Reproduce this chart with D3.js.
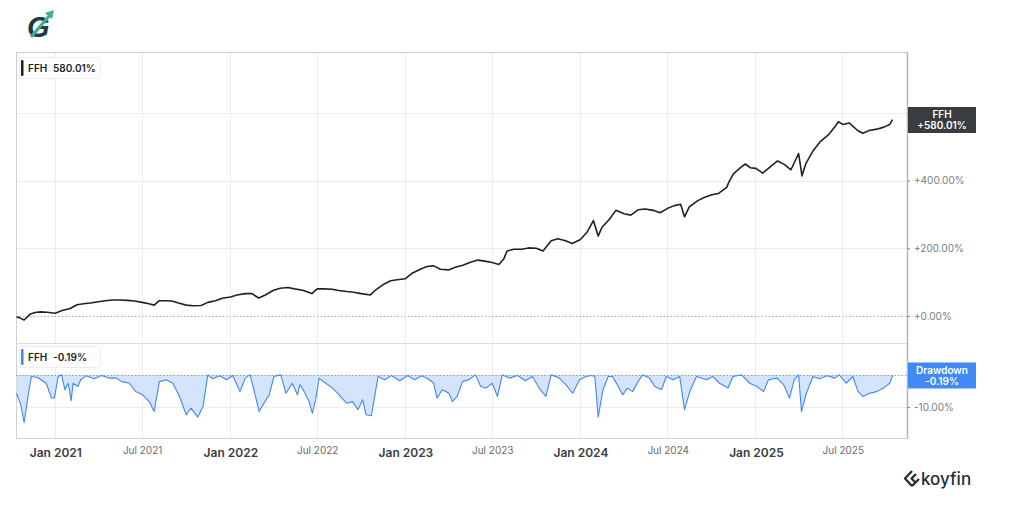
<!DOCTYPE html>
<html><head><meta charset="utf-8">
<script src="https://cdn.jsdelivr.net/npm/d3@7"></script>
<style>
html,body{margin:0;padding:0;background:#fff;}
svg{display:block;font-family:Inter, "Helvetica Neue", Arial, sans-serif;}
</style></head>
<body>
<svg id="c" width="1024" height="509"></svg>
<script>
// ---- data ----
const priceDates = ["2020-10-12","2020-10-18","2020-10-28","2020-11-10","2020-11-20","2020-12-01","2020-12-15","2021-01-01","2021-01-15","2021-02-01","2021-02-15","2021-03-01","2021-03-15","2021-04-01","2021-04-15","2021-05-01","2021-05-15","2021-06-01","2021-06-15","2021-07-01","2021-07-15","2021-07-26","2021-08-06","2021-08-20","2021-09-01","2021-09-15","2021-10-01","2021-10-15","2021-11-01","2021-11-15","2021-12-01","2021-12-15","2022-01-01","2022-01-15","2022-02-01","2022-02-15","2022-03-01","2022-03-15","2022-04-01","2022-04-15","2022-05-01","2022-05-15","2022-06-01","2022-06-20","2022-07-01","2022-07-15","2022-08-01","2022-08-15","2022-09-01","2022-09-15","2022-10-01","2022-10-20","2022-11-01","2022-11-15","2022-12-01","2022-12-15","2023-01-01","2023-01-15","2023-02-01","2023-02-15","2023-03-01","2023-03-15","2023-04-01","2023-04-15","2023-05-01","2023-05-15","2023-06-01","2023-06-15","2023-07-01","2023-07-15","2023-07-25","2023-08-01","2023-08-15","2023-09-01","2023-09-15","2023-10-01","2023-10-15","2023-11-01","2023-11-15","2023-12-01","2023-12-15","2024-01-01","2024-01-15","2024-01-28","2024-02-07","2024-02-15","2024-03-01","2024-03-15","2024-04-01","2024-04-15","2024-05-01","2024-05-15","2024-06-01","2024-06-15","2024-07-01","2024-07-15","2024-07-28","2024-08-05","2024-08-15","2024-09-01","2024-09-15","2024-10-01","2024-10-15","2024-11-01","2024-11-06","2024-11-15","2024-12-01","2024-12-10","2024-12-20","2025-01-01","2025-01-15","2025-02-01","2025-02-15","2025-03-01","2025-03-15","2025-03-31","2025-04-07","2025-04-15","2025-05-01","2025-05-15","2025-06-01","2025-06-15","2025-06-22","2025-07-01","2025-07-15","2025-08-01","2025-08-12","2025-08-25","2025-09-10","2025-09-25","2025-10-07","2025-10-13"];
const priceValues = [-3,-5,-12,6,10,12,11,8,16,22,33,36,38,42,45,47,47,46,44,40,36,32,45,45,44,38,32,30,31,40,45,52,56,62,66,66,53,62,76,82,84,80,76,66,80,80,79,75,72,70,66,62,78,92,104,107,110,126,138,146,148,138,136,144,150,158,165,162,158,152,168,192,197,197,201,200,192,222,228,222,214,226,248,282,236,262,285,312,302,298,314,316,312,305,318,326,330,293,322,340,350,358,362,380,397,420,440,449,438,436,422,442,458,448,432,480,414,450,490,515,535,560,574,566,570,548,540,548,552,558,566,580.01];

const ddDates = ["2020-10-12","2020-10-21","2020-10-28","2020-11-05","2020-11-12","2020-11-25","2020-12-13","2020-12-24","2020-12-30","2021-01-07","2021-01-14","2021-01-21","2021-01-28","2021-02-03","2021-02-07","2021-02-17","2021-02-23","2021-03-06","2021-03-23","2021-04-07","2021-04-23","2021-05-07","2021-05-20","2021-06-04","2021-06-18","2021-07-02","2021-07-16","2021-07-26","2021-08-06","2021-08-20","2021-09-03","2021-09-17","2021-10-01","2021-10-11","2021-10-25","2021-11-05","2021-11-15","2021-11-25","2021-12-10","2021-12-24","2022-01-06","2022-01-21","2022-02-01","2022-02-11","2022-02-20","2022-03-02","2022-03-12","2022-03-23","2022-04-02","2022-04-16","2022-04-27","2022-05-10","2022-05-21","2022-05-26","2022-06-04","2022-06-14","2022-06-21","2022-06-28","2022-07-05","2022-07-19","2022-08-02","2022-08-16","2022-08-31","2022-09-13","2022-09-24","2022-10-04","2022-10-11","2022-10-22","2022-10-29","2022-11-05","2022-11-19","2022-12-03","2022-12-20","2023-01-06","2023-01-20","2023-02-04","2023-02-17","2023-03-01","2023-03-08","2023-03-19","2023-04-02","2023-04-09","2023-04-19","2023-04-30","2023-05-13","2023-05-27","2023-06-07","2023-06-18","2023-07-01","2023-07-12","2023-07-22","2023-08-06","2023-08-23","2023-09-08","2023-09-23","2023-10-07","2023-10-21","2023-11-01","2023-11-18","2023-12-02","2023-12-16","2023-12-30","2024-01-13","2024-01-24","2024-01-31","2024-02-07","2024-02-17","2024-02-28","2024-03-08","2024-03-18","2024-03-29","2024-04-08","2024-04-19","2024-04-30","2024-05-10","2024-05-24","2024-06-04","2024-06-18","2024-06-28","2024-07-12","2024-07-26","2024-08-05","2024-08-16","2024-08-30","2024-09-20","2024-10-03","2024-10-17","2024-11-04","2024-11-14","2024-12-02","2024-12-19","2025-01-03","2025-01-17","2025-01-27","2025-02-14","2025-02-28","2025-03-12","2025-03-22","2025-03-31","2025-04-06","2025-04-16","2025-04-30","2025-05-13","2025-05-30","2025-06-14","2025-06-24","2025-07-08","2025-07-22","2025-08-02","2025-08-12","2025-08-26","2025-09-10","2025-09-24","2025-10-07","2025-10-13"];
const ddValues = [-5.7,-9.3,-14.8,-6.7,-0.5,-0.8,-2.6,-7.2,-7.2,-0.5,0,-4.6,-2.6,-8,-2.6,-3.6,-1.5,-0.3,-1.2,-0.2,-1.0,-1,-2.1,-2.6,-5.2,-6.2,-8.3,-11.4,-2.1,-1.5,-2.6,-6.7,-12.4,-10.3,-13.1,-9.8,0,-1.2,-0.3,-1.5,-0.2,-5.2,-1,0,-5.2,-11.4,-8.8,-6.2,-0.5,0,-5.7,-2.6,-6.2,-3,-5.2,-8.3,-11.9,-7.7,-1,-2.6,-4.1,-6.2,-8.8,-8.3,-10.8,-7.7,-12.4,-12.7,-6.7,-0.5,-1.5,-0.2,-1.8,-0.2,-1.5,-0.3,-1.2,-2.6,-7.2,-4.6,-5.7,-8.3,-6.7,-2.1,-1.5,0,-3.6,-4.1,-2.6,-6.7,0,-1,-0.2,-1.8,-0.5,-4.1,-6.7,0,-1,-3.1,-5.7,-1.5,-0.5,-0.2,-0.5,-13.1,-4.6,-0.5,-0.5,-3.1,-6.2,-4.1,-5.2,-2.1,0,-1,-3.6,-4.6,-0.5,-1.5,-0.5,-10.8,-5.2,-0.5,-1.5,-0.5,-2.6,-4.1,-0.5,0,-2.6,-3.6,-5.2,-1.5,-1,-3.1,-7.2,-1.5,0,-11.4,-5.7,-0.5,-1.2,-0.3,-1,0,-2.6,-0.5,-5.2,-6.7,-5.7,-5.2,-4.1,-2.6,-0.19];

const priceTicks = [0, 200, 400, 600];
const ddTicks = [-10];
const xTickDates = ["2021-01-01","2021-07-01","2022-01-01","2022-07-01","2023-01-01","2023-07-01","2024-01-01","2024-07-01","2025-01-01","2025-07-01"];
const tickerName = "FFH";
const lastReturn = "580.01%";
const lastDrawdown = "-0.19%";

// ---- layout ----
const svg = d3.select("#c");
const L = 16, R = 907, T = 52, SEP = 343, B = 438;
const parse = d3.timeParse("%Y-%m-%d");

const x = d3.scaleTime().domain([parse("2020-10-11"), parse("2025-11-12")]).range([L, R]);
const y = d3.scaleLinear().domain([-80, 780]).range([SEP, T]);
const yd = d3.scaleLinear().domain([-19.6, 9.9]).range([B, SEP]);

const price = priceDates.map((d, i) => ({d: parse(d), v: priceValues[i]}));
const dd = ddDates.map((d, i) => ({d: parse(d), v: ddValues[i]}));
const xt = xTickDates.map(parse);

// vertical gridlines
svg.append("g").selectAll("line").data(xt).join("line")
  .attr("x1", d => x(d)).attr("x2", d => x(d)).attr("y1", T).attr("y2", B)
  .attr("stroke", "#ececec").attr("stroke-width", 1).attr("shape-rendering","crispEdges");

// horizontal gridlines top
svg.append("g").selectAll("line").data(priceTicks.filter(t => t !== 0)).join("line")
  .attr("x1", L).attr("x2", R).attr("y1", d => Math.round(y(d))+0.5).attr("y2", d => Math.round(y(d))+0.5)
  .attr("stroke", "#ececec");
svg.append("line").attr("x1", L).attr("x2", R).attr("y1", Math.round(y(0))+0.5).attr("y2", Math.round(y(0))+0.5)
  .attr("stroke", "#aaa").attr("stroke-dasharray", "1.5,2");

// horizontal gridlines drawdown
svg.append("g").selectAll("line").data(ddTicks).join("line")
  .attr("x1", L).attr("x2", R).attr("y1", d => Math.round(yd(d))+0.5).attr("y2", d => Math.round(yd(d))+0.5)
  .attr("stroke", "#ececec");

// frame
svg.append("rect").attr("x", L+0.5).attr("y", T+0.5).attr("width", R-L).attr("height", B-T)
  .attr("fill", "none").attr("stroke", "#cfcfcf");
svg.append("line").attr("x1", L).attr("x2", R).attr("y1", SEP+0.5).attr("y2", SEP+0.5).attr("stroke", "#dcdcdc");
svg.append("line").attr("x1", R+0.5).attr("x2", R+0.5).attr("y1", T).attr("y2", B+1).attr("stroke", "#b5b5b5").attr("stroke-width",1.5);

// drawdown area
svg.append("path").datum(dd)
  .attr("d", d3.area().x(d => x(d.d)).y0(yd(0)).y1(d => yd(d.v)))
  .attr("fill", "#d3e4fc");
svg.append("line").attr("x1", L).attr("x2", R).attr("y1", Math.round(yd(0))+0.5).attr("y2", Math.round(yd(0))+0.5)
  .attr("stroke", "#999").attr("stroke-dasharray", "1.5,2");
svg.append("path").datum(dd)
  .attr("d", d3.line().x(d => x(d.d)).y(d => yd(d.v)))
  .attr("fill", "none").attr("stroke", "#3f87f5").attr("stroke-width", 1.1).attr("stroke-linejoin","round");

// price line
svg.append("path").datum(price)
  .attr("d", d3.line().x(d => x(d.d)).y(d => y(d.v)))
  .attr("fill", "none").attr("stroke", "#1f2126").attr("stroke-width", 1.6).attr("stroke-linejoin","round");

// right axes
const fmt = v => (v >= 0 ? "+" : "") + v.toFixed(2) + "%";
const ra = svg.append("g").attr("transform", `translate(${R},0)`)
  .call(d3.axisRight(y).tickValues(priceTicks).tickFormat(fmt).tickSize(3).tickPadding(4));
const rb = svg.append("g").attr("transform", `translate(${R},0)`)
  .call(d3.axisRight(yd).tickValues(ddTicks).tickFormat(fmt).tickSize(3).tickPadding(4));
[ra, rb].forEach(g => {
  g.select(".domain").remove();
  g.selectAll(".tick line").attr("stroke", "#888");
  g.selectAll(".tick text").attr("fill", "#7c7c7c").style("font-size", "10px")
    .style("font-family", "Inter, Arial, sans-serif");
});

// bottom axis
const bx = svg.append("g").attr("transform", `translate(0,${B})`)
  .call(d3.axisBottom(x).tickValues(xt).tickSize(0).tickPadding(0)
    .tickFormat(d => d3.timeFormat(d.getMonth() === 0 ? "%b %Y" : "%b %Y")(d)));
bx.select(".domain").remove();
bx.selectAll(".tick text").each(function(d) {
  const jan = d.getMonth() === 0;
  d3.select(this).attr("y", jan ? 19 : 16).attr("dy", 0)
    .attr("fill", jan ? "#3b3d42" : "#6a6c70")
    .style("font-size", jan ? "12px" : "10px")
    .style("font-weight", jan ? "600" : "400")
    .style("font-family", "Inter, Arial, sans-serif");
});

// legends (top-left)
function legend(yTop, color, label, value) {
  const g = svg.append("g");
  g.append("rect").attr("x", 19.5).attr("y", yTop + 0.5).attr("width", 81).attr("height", 21).attr("rx", 3)
    .attr("fill", "#fff").attr("stroke", "#ececec");
  g.append("rect").attr("x", 21).attr("y", yTop + 3).attr("width", 2.5).attr("height", 16).attr("rx", 1).attr("fill", color);
  g.append("text").attr("x", 28).attr("y", yTop + 15).text(label)
    .attr("fill", "#222").style("font-size", "10px").style("font-weight", "600");
  g.append("text").attr("x", 53).attr("y", yTop + 15).text(value)
    .attr("fill", "#222").style("font-size", "10px").style("font-weight", "600");
}
legend(57, "#1f2126", tickerName, lastReturn);
legend(346, "#3f87f5", tickerName, lastDrawdown);

// right-side tags
function tag(yc, bg, l1, l2) {
  const g = svg.append("g");
  g.append("rect").attr("x", R + 1).attr("y", yc - 13).attr("width", 68).attr("height", 26).attr("fill", bg);
  g.append("text").attr("x", R + 35).attr("y", yc - 2).attr("text-anchor", "middle").text(l1)
    .attr("fill", "#fff").style("font-size", "10px").style("font-weight", "600");
  g.append("text").attr("x", R + 35).attr("y", yc + 9).attr("text-anchor", "middle").text(l2)
    .attr("fill", "#fff").style("font-size", "10px").style("font-weight", "600");
}
tag(120, "#393c41", tickerName, "+" + lastReturn);
tag(375.5, "#418af5", "Drawdown", lastDrawdown);

// top-left logo
const logo = svg.append("g");
logo.append("text").attr("x", 27).attr("y", 37).text("G")
  .attr("fill", "#1c3a3f").style("font-size", "29px").style("font-weight", "800").style("font-style", "italic")
  .style("font-family", "Arial, sans-serif");
logo.append("path").attr("d", "M31,37 L50,15").attr("stroke", "#3aae92").attr("stroke-width", 3.2).attr("fill","none");
logo.append("path").attr("d", "M45,13 L54,10 L52,19 Z").attr("fill", "#3aae92");

// koyfin logo
const kf = svg.append("g");
kf.append("path").attr("d", "M912,471 L905,478.5 L912,486 M916,474 L911.5,478.5 L916,483 M912,486 L919,479")
  .attr("stroke", "#2a2c31").attr("stroke-width", 2.3).attr("fill", "none").attr("stroke-linejoin","round");
kf.append("text").attr("x", 921).attr("y", 485).text("koyfin")
  .attr("fill", "#2a2c31").style("font-size", "17px").style("font-weight", "500");
</script>
</body></html>
